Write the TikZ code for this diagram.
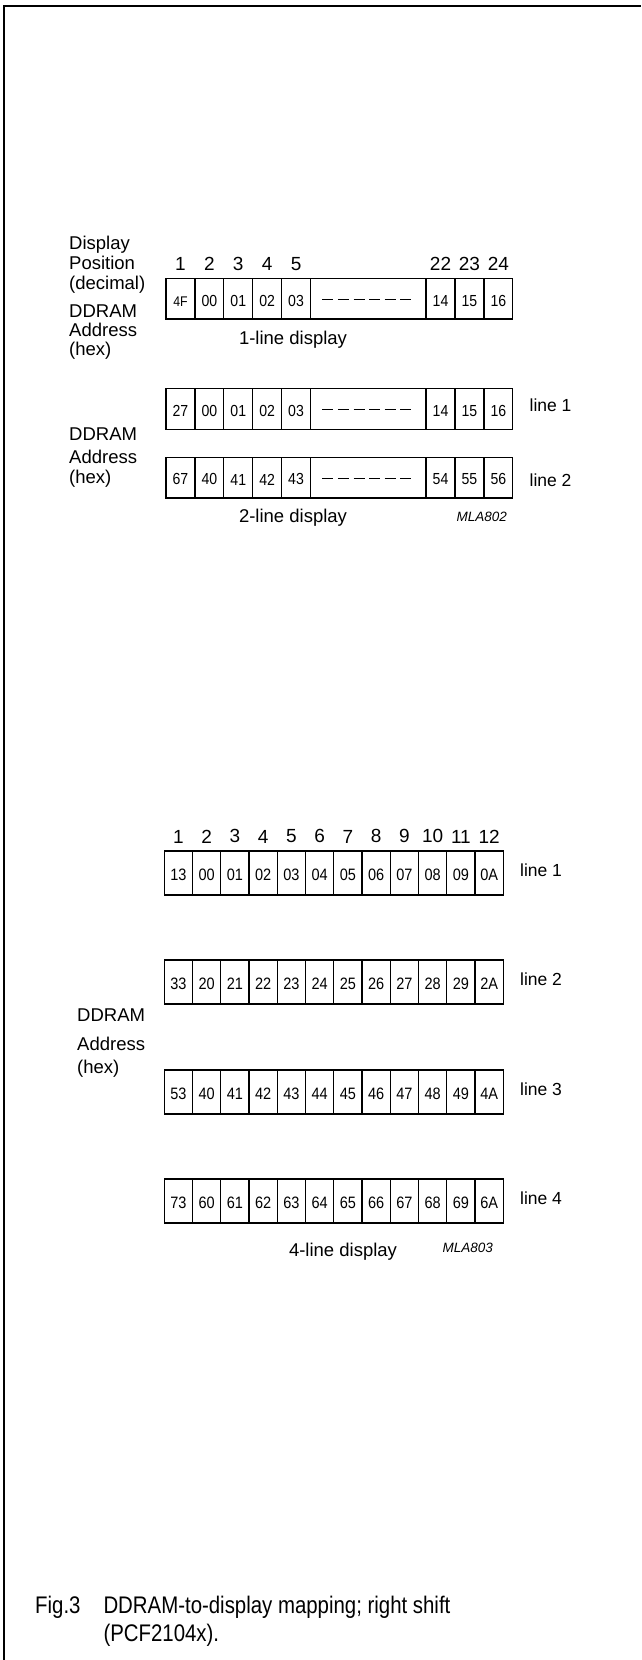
\documentclass[tikz,border=0pt]{standalone}
\usepackage{fontspec}
\setmainfont{Liberation Sans}
\newfontfamily\captfont[FakeStretch=0.85]{Liberation Sans}
\newfontfamily\cellfont[FakeStretch=0.88]{Liberation Sans}
\usetikzlibrary{positioning}

\begin{document}
\begin{tikzpicture}[x=1pt, y=-1pt,
  cell/.style={draw, line width=1.3pt, minimum width=28.9pt, minimum height=40.7pt,
    inner sep=0pt, text height=15pt, font=\fontsize{16}{16}\cellfont},
  qcell/.style={cell, minimum width=28.25pt, minimum height=44pt, font=\fontsize{16.5}{16.5}\cellfont},
  posnum/.style={inner sep=0pt, font=\fontsize{19}{19}\selectfont},
  lbl/.style={inner sep=0pt, anchor=base west, font=\fontsize{18.5}{18.5}\selectfont},
  title/.style={inner sep=0pt, font=\fontsize{18.5}{18.5}\selectfont},
  tag/.style={inner sep=0pt, anchor=base east, font=\fontsize{13.5}{13.5}\selectfont\itshape},
  linelbl/.style={inner sep=0pt, anchor=west, font=\fontsize{17.5}{17.5}\selectfont},
  capt/.style={inner sep=0pt, anchor=base west, font=\fontsize{24}{24}\captfont},
  gapdash/.style={line width=1.3pt, dash pattern=on 11pt off 4.6pt}]
  \useasboundingbox (0,0) rectangle (641,1660);

  % Frame
  \draw[line width=2pt] (4,1660) -- (4,6) -- (641,6);

  % 1-line display
  \foreach \v [count=\i] in {{\fontsize{14}{14}\selectfont 4F},00,01,02,03}
    \node[cell] (s\i) at ({166+(\i-0.5)*28.9},298.7) {\v};
  \node[cell, minimum width=4*28.9pt] (sgap) at ({166+7*28.9},298.7) {};
  \draw[gapdash] ([xshift=-46pt, yshift=-1pt]sgap.center) -- ([xshift=43pt, yshift=-1pt]sgap.center);
  \foreach \v [count=\i from 10] in {14,15,16}
    \node[cell] (s\i) at ({166+(\i-0.5)*28.9},298.7) {\v};

  % Display positions
  \foreach \n [count=\i] in {1,2,3,4,5}
    \node[posnum, above=7pt of s\i] (sn\i) {\n};
  \foreach \n [count=\i from 10] in {22,23,24}
    \node[posnum, above=7pt of s\i] (sn\i) {\n};

  \node[lbl] (l1) at (69,249) {Display};
  \node[lbl] (l2) at (69,269) {Position};
  \node[lbl] (l3) at (69,289) {(decimal)};
  \node[lbl] (l4) at (69,317) {DDRAM};
  \node[lbl] (l5) at (69,336) {Address};
  \node[lbl] (l6) at (69,355) {(hex)};
  \node[title] (t1) at (293,340) {1-line display};

  % 2-line display
  \foreach \v [count=\i] in {27,00,01,02,03}
    \node[cell] (da\i) at ({166+(\i-0.5)*28.9},408.8) {\v};
  \node[cell, minimum width=4*28.9pt] (dagap) at ({166+7*28.9},408.8) {};
  \draw[gapdash] ([xshift=-46pt, yshift=-1pt]dagap.center) -- ([xshift=43pt, yshift=-1pt]dagap.center);
  \foreach \v [count=\i from 10] in {14,15,16}
    \node[cell] (da\i) at ({166+(\i-0.5)*28.9},408.8) {\v};

  \foreach \v [count=\i] in {67,40,41,42,43}
    \node[cell] (db\i) at ({166+(\i-0.5)*28.9},477.5) {\v};
  \node[cell, minimum width=4*28.9pt] (dbgap) at ({166+7*28.9},477.5) {};
  \draw[gapdash] ([xshift=-46pt, yshift=-1pt]dbgap.center) -- ([xshift=43pt, yshift=-1pt]dbgap.center);
  \foreach \v [count=\i from 10] in {54,55,56}
    \node[cell] (db\i) at ({166+(\i-0.5)*28.9},477.5) {\v};

  \node[linelbl, right=16pt of da12, yshift=4pt] (dl1) {line 1};
  \node[linelbl, right=16pt of db12, yshift=-3pt] (dl2) {line 2};

  \node[lbl] (m1) at (69,440) {DDRAM};
  \node[lbl] (m2) at (69,463) {Address};
  \node[lbl] (m3) at (69,483) {(hex)};
  \node[title] (t2) at (293,518) {2-line display};
  \node[tag] (tag2) at (507,521) {MLA802};

  % 4-line display
  \foreach \r/\y/\f/\p in {1/873/13/0, 2/982/33/2, 3/1092/53/4, 4/1201/73/6} {
    \node[qcell] (q\r-1) at ({164.3+0.5*28.25},\y) {\f};
    \foreach \d [count=\i from 2] in {0,1,2,3,4,5,6,7,8,9,A}
      \node[qcell] (q\r-\i) at ({164.3+(\i-0.5)*28.25},\y) {\p\d};
    \node[linelbl, right=16pt of q\r-12, yshift=3pt] (ql\r) {line \r};
  }
  \foreach \i in {1,...,12}
    \node[posnum, above=7pt of q1-\i] (qn\i) {\i};

  \node[lbl] (n1) at (77,1021) {DDRAM};
  \node[lbl] (n2) at (77,1050) {Address};
  \node[lbl] (n3) at (77,1073) {(hex)};
  \node[title] (t4) at (343,1252) {4-line display};
  \node[tag] (tag4) at (493,1252) {MLA803};

  % Caption
  \node[capt] (fig) at (35,1613) {Fig.3};
  \node[capt] (cap1) at (103.3,1613) {DDRAM-to-display mapping; right shift};
  \node[capt] (cap2) at (103.3,1641) {(PCF2104x).};
\end{tikzpicture}
\end{document}
